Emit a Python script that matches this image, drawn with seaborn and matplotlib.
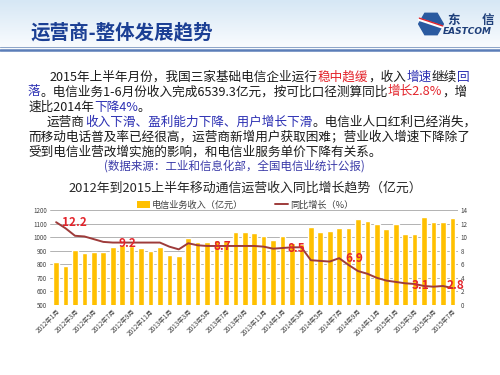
import matplotlib
matplotlib.use("Agg")
import matplotlib.pyplot as plt
import numpy as np
import seaborn as sns
from matplotlib.colors import LinearSegmentedColormap
from matplotlib.lines import Line2D
from matplotlib.patches import Patch, RegularPolygon

# ---------- data ----------
months = [f"{y}年{m}月" for y in (2012, 2013, 2014, 2015) for m in range(1, 13)][:43]
revenue = [814, 787, 903, 886, 888, 893, 930, 942, 937, 922, 895, 925, 869, 864,
           991, 962, 964, 976, 975, 1041, 1041, 1032, 1008, 977, 1010, 955, 950,
           1077, 1040, 1045, 1068, 1068, 1131, 1122, 1099, 1058, 1099, 1023, 1022,
           1151, 1111, 1113, 1141]
growth = [12.2, 11.3, 10.2, 10.1, 9.7, 9.3, 9.2, 9.2, 9.2, 9.2, 9.2, 9.2, 8.6, 8.2,
          9.1, 8.8, 8.7, 8.7, 8.7, 8.7, 8.7, 8.7, 8.6, 8.3, 8.4, 8.5, 8.5,
          6.6, 6.5, 6.4, 6.9, 5.9, 5.0, 4.6, 4.0, 3.6, 3.4, 3.2, 3.1,
          2.8, 2.7, 2.8, 2.5]
tick_labels = months[::2]
label_months = ["2012年1月", "2012年9月", "2013年6月", "2014年3月", "2014年8月", "2015年3月", "2015年7月"]
label_values = [12.2, 9.2, 8.7, 8.5, 6.9, 3.1, 2.8]
label_offsets = [(13, 0), (-3, -0.5), (4, -0.5), (-3.5, -0.5), (4, -0.3), (4, -1.2), (2.2, 0.7)]

BLACK = "#1a1a1a"
RED = "#e3242b"
BLUE = "#2b2fb3"
BAR = "#FFC000"
LINE = "#9e3b3a"

sns.set_style("white")
plt.rcParams["font.family"] = ["Noto Sans CJK SC", "DejaVu Sans"]

fig = plt.figure(figsize=(5, 3.75), dpi=100)
fig.patch.set_facecolor("white")

# header band
hdr = fig.add_axes([0, 1 - 46 / 375, 1, 46 / 375], zorder=-5)
grad = np.linspace(0, 1, 64).reshape(-1, 1)
hdr.imshow(grad, aspect="auto", extent=[0, 1, 0, 1],
           cmap=LinearSegmentedColormap.from_list("hdr", ["#d6e7f5", "#f8fbfe"]))
hdr.axis("off")
fig.add_artist(Line2D([0, 1], [1 - 47 / 375] * 2, color="#8ea6c9", lw=0.8, transform=fig.transFigure))
fig.add_artist(Line2D([0, 1], [1 - 49.8 / 375] * 2, color="#5b7db8", lw=1.8, transform=fig.transFigure))

fig.text(30 / 500, 1 - 33 / 375, "运营商-整体发展趋势", fontsize=14, fontweight="bold",
         color="#1b3f94", va="center")

# logo
logo = fig.add_axes([418 / 500, 1 - 37 / 375, 26 / 500, 26 / 375])
logo.set_xlim(-1, 1)
logo.set_ylim(-1, 1)
logo.add_patch(RegularPolygon((0, 0), 6, radius=0.95, orientation=np.pi / 6, color="#2a5aa0"))
logo.plot([-0.9, 0.9], [0.35, -0.25], color="white", lw=2.2)
logo.plot([-0.9, 0.9], [0.45, -0.15], color=RED, lw=1.0)
logo.axis("off")
fig.text(447 / 500, 1 - 20 / 375, "东", fontsize=9, fontweight="bold", color="#1e3f7a", va="center")
fig.text(482 / 500, 1 - 20 / 375, "信", fontsize=9, fontweight="bold", color="#1e3f7a", va="center")
fig.text(443 / 500, 1 - 32 / 375, "EASTCOM", fontsize=6.5, fontweight="bold", style="italic",
         color="#1e3f7a", va="center", family="DejaVu Sans")


def rich_line(x_px, y_px, parts, size):
    renderer = fig.canvas.get_renderer()
    x = x_px / 500
    for s, c in parts:
        t = fig.text(x, 1 - y_px / 375, s, color=c, fontsize=size, va="center", ha="left")
        x += t.get_window_extent(renderer=renderer).width / fig.bbox.width


body = 9.1
rich_line(50, 77, [("2015年上半年月份，我国三家基础电信企业运行", BLACK), ("稳中趋缓", RED),
                   ("，收入", BLACK), ("增速", BLUE), ("继续", BLACK), ("回", BLUE)], body)
rich_line(28, 92, [("落", BLUE), ("。电信业务1-6月份收入完成6539.3亿元，按可比口径测算同比", BLACK),
                   ("增长2.8%", RED), ("，增", BLACK)], body)
rich_line(28, 107, [("速比2014年", BLACK), ("下降4%", BLUE), ("。", BLACK)], body)
rich_line(47, 122, [("运营商", BLACK), ("收入下滑、盈利能力下降、用户增长下滑", BLUE),
                    ("。电信业人口红利已经消失，", BLACK)], body)
rich_line(28, 137, [("而移动电话普及率已经很高，运营商新增用户获取困难；营业收入增速下降除了", BLACK)], body)
rich_line(28, 152, [("受到电信业营改增实施的影响，和电信业服务单价下降有关系。", BLACK)], body)
rich_line(104, 166, [("(数据来源：工业和信息化部，全国电信业统计公报)", "#3a3aa8")], 8.3)

fig.text(0.49, 1 - 188 / 375, "2012年到2015上半年移动通信运营收入同比增长趋势（亿元）",
         fontsize=9.3, color="#262626", ha="center", va="center")

# ---------- chart ----------
ax = fig.add_axes([0.10, 1 - 305 / 375, 0.816, 95 / 375])
sns.barplot(x=months, y=revenue, color=BAR, saturation=1, width=0.6, ax=ax)
ax.set_ylim(500, 1200)
ax.set_yticks(range(500, 1201, 100))
ax.grid(axis="y", color="#a6a6a6", lw=0.6)
ax.set_axisbelow(True)

ax2 = ax.twinx()
sns.lineplot(x=months, y=growth, sort=False, color=LINE, lw=1.4, ax=ax2)
ax2.set_ylim(0, 14)
ax2.set_yticks(range(0, 15, 2))
ax2.grid(False)

for m, v, (dx, dy) in zip(label_months, label_values, label_offsets):
    ax2.annotate(f"{v}", xy=(months.index(m), v), xytext=(dx, dy), textcoords="offset points",
                 ha="center", va="center", color=RED, fontsize=8.5, fontweight="bold")

for a in (ax, ax2):
    a.set_xlabel("")
    a.set_ylabel("")
    for sp in a.spines.values():
        sp.set_visible(False)
    a.tick_params(axis="y", length=0, labelsize=4.5, labelcolor="#404040", pad=2)

ax.set_xlim(-0.65, 42.6)
ax.set_xticks(range(0, 43, 2))
ax.set_xticklabels(tick_labels, rotation=45, ha="right", rotation_mode="anchor")
ax.tick_params(axis="x", length=0, labelsize=4.6, labelcolor="#404040", pad=2)

handles = [Patch(facecolor=BAR, edgecolor="none"), Line2D([], [], color=LINE, lw=1.4)]
fig.legend(handles, ["电信业务收入（亿元）", "同比增长（%）"], loc="center",
           bbox_to_anchor=(0.49, 1 - 205 / 375), ncol=2, frameon=False, fontsize=6.6,
           handlelength=1.4, handleheight=0.9, columnspacing=3.5, handletextpad=0.2,
           labelcolor="#404040")

fig.savefig("out.png", dpi=100)
